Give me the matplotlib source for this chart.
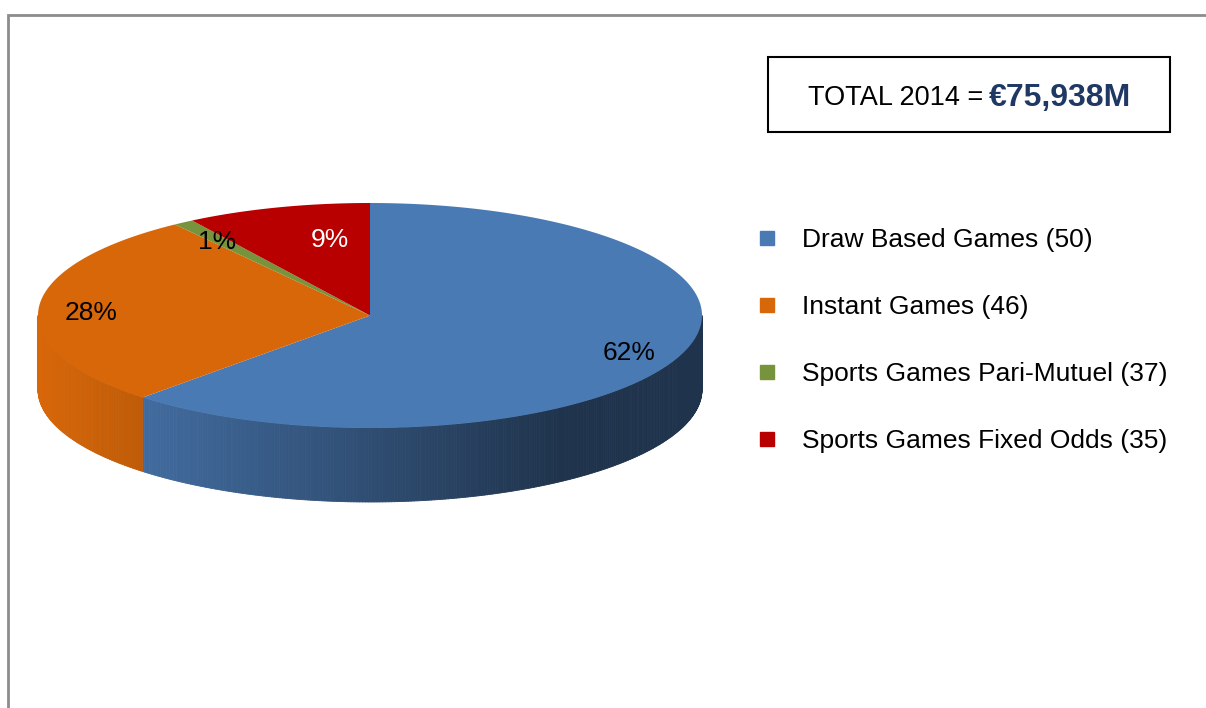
import numpy as np
import matplotlib.pyplot as plt
from matplotlib.patches import Polygon, Rectangle
from matplotlib.collections import PolyCollection
from matplotlib.lines import Line2D
import matplotlib.colors as mcolors

# data
categories = ['Draw Based Games (50)', 'Instant Games (46)',
              'Sports Games Pari-Mutuel (37)', 'Sports Games Fixed Odds (35)']
shares = [62, 28, 1, 9]
pct_labels = ['62%', '28%', '1%', '9%']
total_text = 'TOTAL 2014 ='
total_value = '€75,938M'

# style
colors = ['#4a7ab4', '#d86709', '#77933c', '#b90000']
label_colors = ['black', 'black', 'black', 'white']
# label offsets as fraction of the radii (x, y)
label_pos = [(0.78, 0.33), (-0.84, -0.02), (-0.46, -0.65), (-0.12, -0.67)]

plt.rcParams['font.family'] = ['Liberation Sans', 'DejaVu Sans']

fig = plt.figure(figsize=(12.06, 7.08), dpi=100)
ax = fig.add_axes([0, 0, 1, 1])
ax.set_xlim(0, 1206)
ax.set_ylim(708, 0)
ax.axis('off')

# pie geometry (pixels)
cx, cy, rx, ry, depth = 370, 315.5, 332, 112.5, 74

fr = np.array(shares) / sum(shares)
bounds = 90 - 360 * np.concatenate([[0], np.cumsum(fr)])


def pt(a):
    r = np.radians(a)
    return cx + rx * np.cos(r), cy - ry * np.sin(r)


def shade(x):
    t = (x - (cx - rx)) / (2 * rx)
    return 1 - 0.58 * min(t / 0.79, 1)


# side walls (front half only)
for i in range(len(shares)):
    a0, a1 = bounds[i + 1], bounds[i]
    lo, hi = max(a0, -180), min(a1, 0)
    if hi <= lo:
        continue
    base = np.array(mcolors.to_rgb(colors[i]))
    angs = np.linspace(lo, hi, int((hi - lo) * 2) + 2)
    polys, cols = [], []
    for a, b in zip(angs[:-1], angs[1:]):
        x0, y0 = pt(a)
        x1, y1 = pt(b)
        polys.append([(x0, y0), (x1, y1), (x1, y1 + depth), (x0, y0 + depth)])
        c = np.clip(base * shade((x0 + x1) / 2), 0, 1)
        cols.append(c)
    ax.add_collection(PolyCollection(polys, facecolors=cols, edgecolors=cols, linewidths=0.6))

# top faces
for i in range(len(shares)):
    angs = np.linspace(bounds[i], bounds[i + 1], 200)
    xs, ys = pt(angs)
    verts = [(cx, cy)] + list(zip(xs, ys))
    ax.add_patch(Polygon(verts, closed=True, facecolor=colors[i], edgecolor='none'))

# percentage labels
for i in range(len(shares)):
    fx, fy = label_pos[i]
    ax.text(cx + fx * rx, cy + fy * ry, pct_labels[i], ha='center', va='center',
            fontsize=19, color=label_colors[i])

# legend
handles = [Line2D([], [], marker='s', ls='none', color=c, markersize=9.5) for c in colors]
ax.legend(handles, categories, loc='upper left',
          bbox_to_anchor=(754 / 1206, 1 - 228 / 708), frameon=False,
          fontsize=19, handlelength=1.0, handletextpad=0.8,
          labelspacing=1.63, borderpad=0, borderaxespad=0)

# total box
ax.add_patch(Rectangle((768, 57), 402, 75, fill=False, ec='black', lw=1.5))
ax.text(983, 105, total_text, ha='right', va='baseline', fontsize=19.5, color='black')
ax.text(989, 106, total_value, ha='left', va='baseline', fontsize=23,
        fontweight='bold', color='#1f3864')

# outer frame
ax.plot([8, 8, 1206], [708, 15, 15], color='#8c8c8c', lw=2, solid_joinstyle='miter')

fig.savefig('out.png', dpi=100)
